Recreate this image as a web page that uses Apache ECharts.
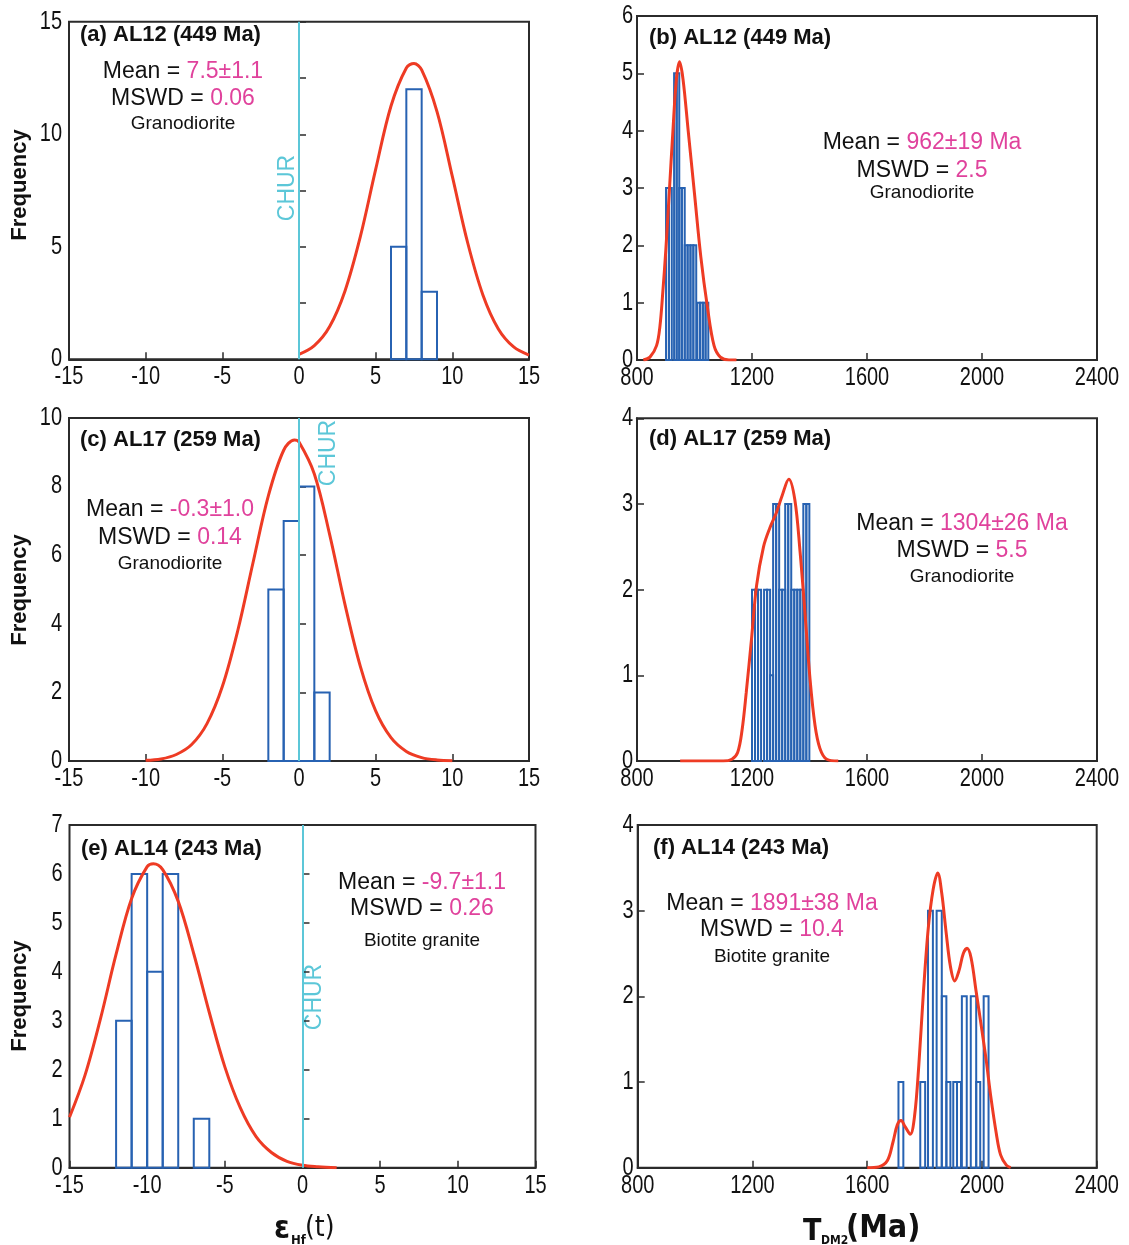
<!DOCTYPE html>
<html><head><meta charset="utf-8">
<script src="https://cdn.jsdelivr.net/npm/echarts@6/dist/echarts.min.js"></script>
<style>html,body{margin:0;padding:0;background:#fff}#c{width:1129px;height:1245px}</style>
</head><body><div id="c"></div>
<script>
// ---------- DATA ----------
const hfRange = [-15, 15];
const tdmRange = [800, 2400];
const hfTicks = [-15, -10, -5, 0, 5, 10, 15];
const tdmTicks = [800, 1200, 1600, 2000, 2400];

// (a) AL12 eHf histogram
const aLo = [6, 7, 8];
const aHi = [7, 8, 9];
const aCount = [5, 12, 3];
const aCurveX = [0, 1, 2, 3, 4, 5, 6, 7, 7.5, 8, 9, 10, 11, 12, 13, 14, 15];
const aCurveY = [0.22, 0.61, 1.46, 3.04, 5.45, 8.44, 11.26, 12.95, 13.15, 12.86, 11.01, 8.13, 5.18, 2.85, 1.35, 0.55, 0.19];

// (b) AL12 TDM2 histogram
const bLo = [901, 911, 929, 938, 947, 956, 966, 976, 986, 996, 1010, 1019.5, 1029, 1038.5];
const bHi = [911, 921, 938, 947, 956, 966, 976, 986, 996, 1006, 1019.5, 1029, 1038.5, 1048];
const bCount = [3, 3, 5, 5, 3, 3, 2, 2, 2, 2, 1, 1, 1, 1];
const bCurveX = [822, 845, 868, 880, 890, 900, 912, 925, 937, 948, 960, 978, 1000, 1022, 1045, 1068, 1090, 1120, 1146];
const bCurveY = [0, 0.05, 0.25, 0.6, 1.2, 1.9, 2.9, 4.0, 4.9, 5.2, 4.9, 4.0, 2.9, 1.8, 0.92, 0.25, 0.05, 0, 0];

// (c) AL17 eHf histogram
const cLo = [-2, -1, 0, 1];
const cHi = [-1, 0, 1, 2];
const cCount = [5, 7, 8, 2];
const cCurveX = [-10, -9, -8, -7, -6, -5, -4, -3, -2, -1, -0.3, 0, 1, 2, 3, 4, 5, 6, 7, 8, 9, 10];
const cCurveY = [0.02, 0.06, 0.19, 0.48, 1.09, 2.17, 3.79, 5.78, 7.73, 9.06, 9.36, 9.30, 8.37, 6.60, 4.56, 2.76, 1.46, 0.68, 0.28, 0.10, 0.03, 0.01];

// (d) AL17 TDM2 histogram
const dLo = [1200, 1210.5, 1221, 1242, 1252.5, 1263, 1273.5, 1284, 1294.5, 1305, 1315.5, 1326, 1336.5, 1347, 1357.5, 1368, 1378.5, 1389];
const dHi = [1210.5, 1221, 1231.5, 1252.5, 1263, 1273.5, 1284, 1294.5, 1305, 1315.5, 1326, 1336.5, 1347, 1357.5, 1368, 1378.5, 1389, 1399.5];
const dCount = [2, 2, 2, 2, 2, 1, 3, 3, 2, 2, 3, 3, 2, 2, 2, 2, 3, 3];
const dCurveX = [950, 1100, 1130, 1150, 1165, 1180, 1199, 1216, 1240, 1262, 1285, 1305, 1328, 1349, 1367, 1384, 1402, 1419, 1436, 1460, 1500];
const dCurveY = [0, 0, 0.02, 0.1, 0.35, 0.8, 1.45, 2.05, 2.5, 2.72, 2.9, 3.1, 3.29, 3.05, 2.45, 1.74, 0.95, 0.42, 0.15, 0.02, 0];

// (e) AL14 eHf histogram
const eLo = [-12, -11, -10, -9, -7];
const eHi = [-11, -10, -9, -8, -6];
const eCount = [3, 6, 4, 6, 1];
const eCurveX = [-15, -14, -13, -12, -11, -10, -9.6, -9, -8, -7, -6, -5, -4, -3, -2, -1, 0, 1, 2.2];
const eCurveY = [1.03, 1.89, 3.05, 4.36, 5.50, 6.15, 6.21, 6.09, 5.44, 4.37, 3.17, 2.06, 1.22, 0.64, 0.31, 0.13, 0.05, 0.02, 0];

// (f) AL14 TDM2 histogram
const fLo = [1709, 1785, 1812, 1842, 1860, 1876, 1900, 1913, 1930, 1961, 1980, 2006];
const fHi = [1726, 1802, 1829, 1860, 1876, 1890, 1913, 1927, 1947, 1980, 1994, 2023];
const fCount = [1, 1, 3, 3, 2, 1, 1, 1, 2, 2, 1, 2];
const fCurveX = [1600, 1640, 1670, 1690, 1705, 1718, 1732, 1750, 1765, 1780, 1796, 1813, 1830, 1846, 1860, 1875, 1890, 1905, 1920, 1935, 1948, 1962, 1980, 2000, 2015, 2030, 2050, 2065, 2085, 2100];
const fCurveY = [0, 0.01, 0.08, 0.3, 0.5, 0.55, 0.48, 0.39, 0.6, 1.2, 2.05, 2.8, 3.25, 3.44, 3.2, 2.75, 2.35, 2.18, 2.3, 2.5, 2.56, 2.45, 2.05, 1.6, 1.25, 0.85, 0.4, 0.15, 0.03, 0];

const yMax = [15, 6, 10, 4, 7, 4];
const yStep = [2.5, 1, 2, 1, 1, 1];
const yLabels = [[0, 5, 10, 15], [0, 1, 2, 3, 4, 5, 6], [0, 2, 4, 6, 8, 10], [0, 1, 2, 3, 4], [0, 1, 2, 3, 4, 5, 6, 7], [0, 1, 2, 3, 4]];
const churValue = 0;

const panelTitles = ['(a) AL12 (449 Ma)', '(b) AL12 (449 Ma)', '(c) AL17 (259 Ma)', '(d) AL17 (259 Ma)', '(e) AL14 (243 Ma)', '(f) AL14 (243 Ma)'];
const meanVals = ['7.5±1.1', '962±19 Ma', '-0.3±1.0', '1304±26 Ma', '-9.7±1.1', '1891±38 Ma'];
const mswdVals = ['0.06', '2.5', '0.14', '5.5', '0.26', '10.4'];
const rockTypes = ['Granodiorite', 'Granodiorite', 'Granodiorite', 'Granodiorite', 'Biotite granite', 'Biotite granite'];

// ---------- LAYOUT / STYLE ----------
const C_RED = '#ee3b24', C_BLUE = '#2762b2', C_CYAN = '#5cc7d8', C_MAG = '#e0429c', C_AX = '#2b2b2b';
const NARROW = "'DejaVu Sans Condensed', sans-serif";
const SANS = "'Liberation Sans', Arial, Helvetica, sans-serif";
const TICK_FONT = '25px ' + SANS;
const TICK_SCALE = 0.8;

const grids = [
  {left: 69, top: 21.8, width: 460, height: 337.5},
  {left: 637, top: 16, width: 460, height: 344},
  {left: 69, top: 418, width: 460, height: 343},
  {left: 637, top: 418.3, width: 460, height: 342.7},
  {left: 69.5, top: 825, width: 466, height: 342.7},
  {left: 637.7, top: 825, width: 459, height: 342.7}
];

const panels = [
  {lo: aLo, hi: aHi, n: aCount, cx: aCurveX, cy: aCurveY, hf: true},
  {lo: bLo, hi: bHi, n: bCount, cx: bCurveX, cy: bCurveY, hf: false},
  {lo: cLo, hi: cHi, n: cCount, cx: cCurveX, cy: cCurveY, hf: true},
  {lo: dLo, hi: dHi, n: dCount, cx: dCurveX, cy: dCurveY, hf: false},
  {lo: eLo, hi: eHi, n: eCount, cx: eCurveX, cy: eCurveY, hf: true},
  {lo: fLo, hi: fHi, n: fCount, cx: fCurveX, cy: fCurveY, hf: false}
];

const zip2 = (a, b) => a.map((v, i) => [v, b[i]]);
const zip3 = (a, b, c) => a.map((v, i) => [v, b[i], c[i]]);

function barRender(params, api) {
  const lo = api.value(0), hi = api.value(1), n = api.value(2);
  const p0 = api.coord([lo, n]);
  const p1 = api.coord([hi, 0]);
  return {
    type: 'rect',
    shape: {x: p0[0], y: p0[1], width: p1[0] - p0[0], height: p1[1] - p0[1]},
    style: {fill: 'none', stroke: C_BLUE, lineWidth: 2}
  };
}

const xAxes = [], yAxes = [], series = [];
panels.forEach((p, i) => {
  xAxes.push({
    type: 'value', gridIndex: i,
    min: p.hf ? hfRange[0] : tdmRange[0], max: p.hf ? hfRange[1] : tdmRange[1],
    interval: p.hf ? 5 : 400,
    axisLine: {show: true, onZero: false, lineStyle: {color: C_AX, width: 2}},
    axisTick: {show: true, inside: true, length: 7, lineStyle: {color: C_AX, width: 1.5}},
    axisLabel: {show: false},
    splitLine: {show: false}
  });
  yAxes.push({
    type: 'value', gridIndex: i, min: 0, max: yMax[i], interval: yStep[i],
    axisLine: {show: true, lineStyle: {color: C_AX, width: 2}},
    axisTick: {show: true, inside: true, length: 7, lineStyle: {color: C_AX, width: 1.5}},
    axisLabel: {show: false},
    splitLine: {show: false}
  });
  series.push({
    type: 'custom', xAxisIndex: i, yAxisIndex: i, z: 2,
    renderItem: barRender, encode: {x: [0, 1], y: 2},
    data: zip3(p.lo, p.hi, p.n), silent: true
  });
  if (p.hf) {
    series.push({
      type: 'line', xAxisIndex: i, yAxisIndex: i, z: 3, symbol: 'none',
      data: [[churValue, 0]], lineStyle: {opacity: 0}, silent: true,
      markLine: {symbol: 'none', silent: true, label: {show: false},
        lineStyle: {color: C_CYAN, type: 'solid', width: 2}, data: [{xAxis: churValue}]}
    });
  }
  series.push({
    type: 'line', xAxisIndex: i, yAxisIndex: i, z: 4, symbol: 'none', smooth: 0.35,
    data: zip2(p.cx, p.cy), lineStyle: {color: C_RED, width: 3}, silent: true
  });
});

// ---------- TEXT ----------
const titlePos = [[80, 35], [649, 38], [80, 440], [649, 439], [81, 849], [653, 848]];
const statPos = [[183, 72, 99, 124], [922, 143, 171, 193], [170, 510, 538, 564], [962, 524, 551, 577], [422, 883, 909, 941], [772, 904, 930, 957]];
const graphic = [];
panelTitles.forEach((t, i) => {
  graphic.push({type: 'text', x: titlePos[i][0], y: titlePos[i][1],
    style: {text: t, font: 'bold 22px ' + SANS, fill: '#111', align: 'left', verticalAlign: 'middle'}});
  const s = statPos[i];
  graphic.push({type: 'text', x: s[0], y: s[1],
    style: {text: '{k|Mean = }{v|' + meanVals[i] + '}', align: 'center', verticalAlign: 'middle',
      rich: {k: {fontFamily: SANS, fontSize: 23, fill: '#111'}, v: {fontFamily: SANS, fontSize: 23, fill: C_MAG}}}});
  graphic.push({type: 'text', x: s[0], y: s[2],
    style: {text: '{k|MSWD = }{v|' + mswdVals[i] + '}', align: 'center', verticalAlign: 'middle',
      rich: {k: {fontFamily: SANS, fontSize: 23, fill: '#111'}, v: {fontFamily: SANS, fontSize: 23, fill: C_MAG}}}});
  graphic.push({type: 'text', x: s[0], y: s[3],
    style: {text: rockTypes[i], font: '19px ' + SANS, fill: '#111', align: 'center', verticalAlign: 'middle'}});
});
[[288, 188], [329, 453], [315, 997]].forEach(p => {
  graphic.push({type: 'text', x: p[0], y: p[1], rotation: Math.PI / 2,
    style: {text: 'CHUR', font: '23px ' + SANS, fill: C_CYAN, align: 'center', verticalAlign: 'middle'}});
});
[185, 590, 996].forEach(y => {
  graphic.push({type: 'text', x: 20, y: y, rotation: Math.PI / 2,
    style: {text: 'Frequency', font: 'bold 22px ' + SANS, fill: '#111', align: 'center', verticalAlign: 'middle'}});
});
graphic.push({type: 'text', x: 274, y: 1230, style: {text: 'ε', font: 'bold 32px ' + NARROW, fill: '#111', align: 'left', verticalAlign: 'middle'}});
graphic.push({type: 'text', x: 291, y: 1241, style: {text: 'Hf', font: 'bold 13px ' + NARROW, fill: '#111', align: 'left', verticalAlign: 'middle'}});
graphic.push({type: 'text', x: 305, y: 1229, style: {text: '(t)', font: '28px ' + NARROW, fill: '#111', align: 'left', verticalAlign: 'middle'}});
graphic.push({type: 'text', x: 803, y: 1232, style: {text: 'T', font: 'bold 30px ' + NARROW, fill: '#111', align: 'left', verticalAlign: 'middle'}});
graphic.push({type: 'text', x: 821, y: 1241, style: {text: 'DM2', font: 'bold 12px ' + NARROW, fill: '#111', align: 'left', verticalAlign: 'middle'}});
graphic.push({type: 'text', x: 846, y: 1229, style: {text: '(Ma)', font: 'bold 32px ' + NARROW, fill: '#111', align: 'left', verticalAlign: 'middle'}});

const chart = echarts.init(document.getElementById('c'), null, {renderer: 'canvas'});
chart.setOption({
  animation: false,
  backgroundColor: '#fff',
  grid: grids.map(g => Object.assign({show: true, borderColor: C_AX, borderWidth: 2, backgroundColor: 'transparent', containLabel: false}, g)),
  xAxis: xAxes, yAxis: yAxes, series: series
});

// Narrow tick labels placed through the axes' own scales
panels.forEach((p, i) => {
  const y0 = chart.convertToPixel({yAxisIndex: i}, 0);
  const x0 = chart.convertToPixel({xAxisIndex: i}, p.hf ? hfRange[0] : tdmRange[0]);
  (p.hf ? hfTicks : tdmTicks).forEach(v => {
    graphic.push({type: 'text', x: chart.convertToPixel({xAxisIndex: i}, v), y: y0 + 18, scaleX: TICK_SCALE,
      style: {text: String(v), font: TICK_FONT, fill: '#111', align: 'center', verticalAlign: 'middle'}});
  });
  yLabels[i].forEach(v => {
    graphic.push({type: 'text', x: x0 - (p.hf ? 7 : 4), y: chart.convertToPixel({yAxisIndex: i}, v), scaleX: TICK_SCALE,
      style: {text: String(v), font: TICK_FONT, fill: '#111', align: 'right', verticalAlign: 'middle'}});
  });
});
chart.setOption({graphic: graphic});
</script></body></html>
